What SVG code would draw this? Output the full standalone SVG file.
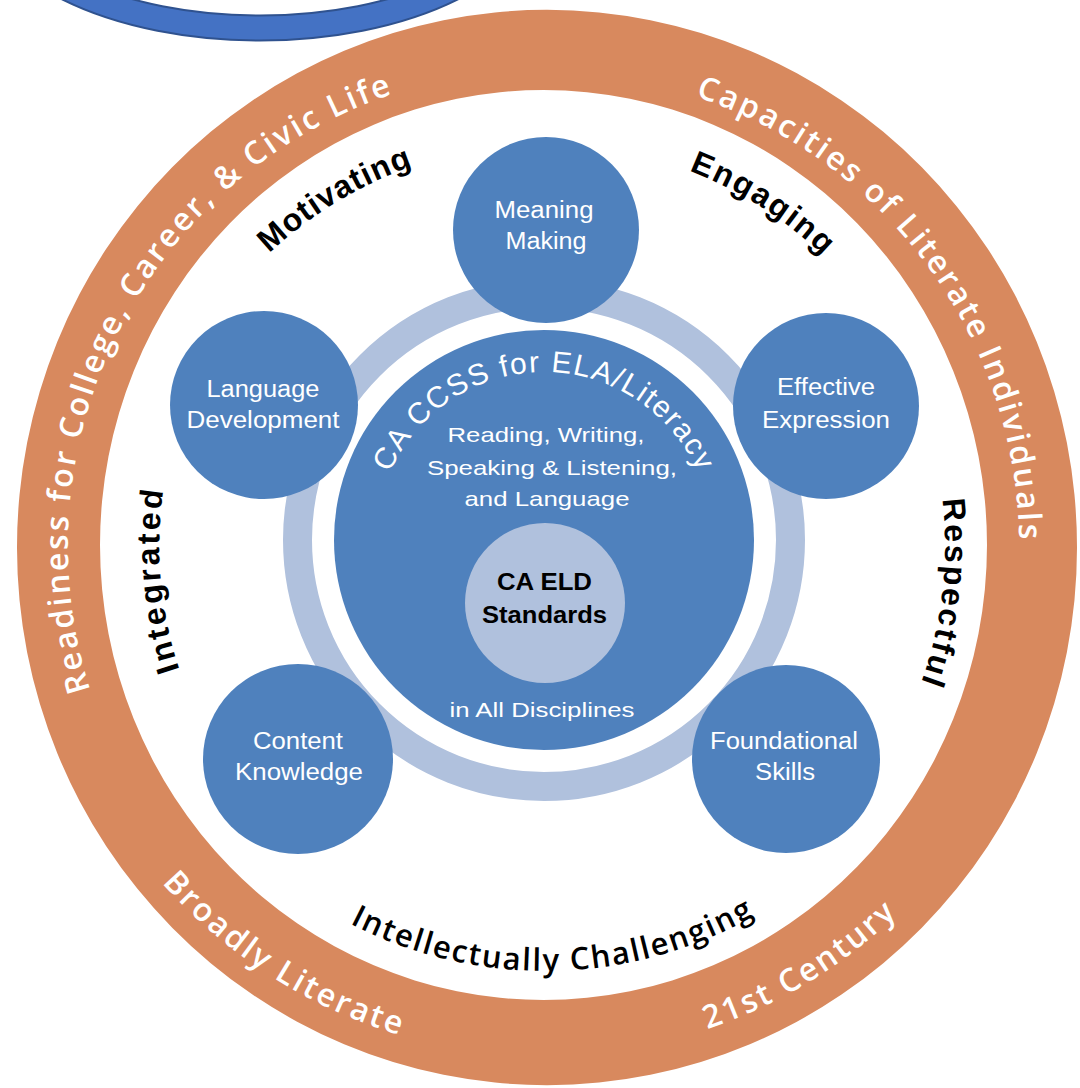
<svg xmlns="http://www.w3.org/2000/svg" width="1080" height="1088" viewBox="0 0 1080 1088">
<style>
.sat{fill:#4F81BD}
.lbl{font-family:"Liberation Sans",Arial,sans-serif;font-size:23px;fill:#fff;text-anchor:middle}
.ctr{font-family:"Liberation Sans",Arial,sans-serif;font-size:21px;fill:#fff;text-anchor:middle}
.eld{font-family:"Liberation Sans",Arial,sans-serif;font-size:23px;font-weight:bold;fill:#000;text-anchor:middle}
.ring{font-family:"Open Sans","Noto Sans",sans-serif;font-size:32px;font-weight:600;fill:#fff;letter-spacing:2.5px;text-anchor:middle}
.blk{font-family:"Liberation Sans",Arial,sans-serif;font-size:32px;font-weight:bold;fill:#000;text-anchor:middle}
.blk2{font-family:"Open Sans","Noto Sans",sans-serif;font-size:31px;font-weight:600;fill:#000;letter-spacing:1.8px;text-anchor:middle}
</style>
<defs>
<path id="pLeft" d="M 257.9 926.9 A 477 477 0 0 1 684.5 89.8"/>
<path id="pRight" d="M 337.2 120.0 A 474 474 0 0 1 886.0 875.3"/>
<path id="pBroad" d="M 73.8 350.8 A 510 510 0 0 0 921.0 890.6"/>
<path id="p21" d="M 161.6 882.2 A 510 510 0 0 0 1020.3 361.2"/>
<path id="pMot" d="M 170.2 691.4 A 402 402 0 0 1 847.5 281.2"/>
<path id="pEng" d="M 248.6 274.4 A 402 402 0 0 1 916.4 699.8"/>
<path id="pInt" d="M 511.4 930.5 A 386 386 0 0 1 445.1 173.2"/>
<path id="pRes" d="M 660.3 163.0 A 400 400 0 0 1 567.7 945.4"/>
<path id="pIC" d="M 128.1 628.5 A 425 425 0 0 0 965.0 611.0"/>
<path id="pCCSS" d="M 376 540 A 168 168 0 0 1 712 540"/>
</defs>

<g id="top-ellipse">
<ellipse cx="260" cy="-108" rx="272" ry="136" fill="#fff" stroke="#2F528F" stroke-width="27"/>
<ellipse cx="260" cy="-108" rx="272" ry="136" fill="none" stroke="#4472C4" stroke-width="23"/>
</g>

<g id="outer-ring">
<path fill="#D8895E" fill-rule="evenodd" d="M 17 547.5 A 530 537.5 0 1 0 1077 547.5 A 530 537.5 0 1 0 17 547.5 Z M 100 545 A 443.5 455 0 1 0 987 545 A 443.5 455 0 1 0 100 545 Z"/>
<text class="ring"><textPath href="#pLeft" startOffset="50%">Readiness for College, Career, &amp; Civic Life</textPath></text>
<text class="ring"><textPath href="#pRight" startOffset="50%">Capacities of Literate Individuals</textPath></text>
<text class="ring"><textPath href="#pBroad" startOffset="50%">Broadly Literate</textPath></text>
<text class="ring"><textPath href="#p21" startOffset="50%">21st Century</textPath></text>
</g>

<g id="qualities">
<text class="blk" letter-spacing="1"><textPath href="#pMot" startOffset="50%">Motivating</textPath></text>
<text class="blk" letter-spacing="2"><textPath href="#pEng" startOffset="50%">Engaging</textPath></text>
<text class="blk" letter-spacing="3"><textPath href="#pInt" startOffset="50%">Integrated</textPath></text>
<text class="blk" letter-spacing="2.5"><textPath href="#pRes" startOffset="50%">Respectful</textPath></text>
<text class="blk2"><textPath href="#pIC" startOffset="50%">Intellectually Challenging</textPath></text>
</g>

<g id="connectors">
<circle cx="544" cy="540" r="246.5" fill="none" stroke="#B0C1DD" stroke-width="29"/>
</g>

<g id="ccss">
<circle cx="544" cy="540" r="210" fill="#4F81BD"/>
<text font-family="Liberation Sans, Arial, sans-serif" font-size="30" fill="#fff" letter-spacing="1.5" text-anchor="middle"><textPath href="#pCCSS" startOffset="50%">CA CCSS for ELA/Literacy</textPath></text>
<text class="ctr" x="546" y="442" textLength="197" lengthAdjust="spacingAndGlyphs">Reading, Writing,</text>
<text class="ctr" x="552" y="475" textLength="250" lengthAdjust="spacingAndGlyphs">Speaking &amp; Listening,</text>
<text class="ctr" x="547" y="506" textLength="165" lengthAdjust="spacingAndGlyphs">and Language</text>
<text class="ctr" x="542" y="717" textLength="185" lengthAdjust="spacingAndGlyphs">in All Disciplines</text>
</g>

<g id="eld">
<circle cx="545" cy="603" r="80" fill="#B0C1DD"/>
<text class="eld" x="544.5" y="590" textLength="95" lengthAdjust="spacingAndGlyphs">CA ELD</text>
<text class="eld" x="544.5" y="623" textLength="125" lengthAdjust="spacingAndGlyphs">Standards</text>
</g>

<g id="meaning-making">
<circle class="sat" cx="546" cy="230" r="93"/>
<text class="lbl" x="544" y="218" textLength="99" lengthAdjust="spacingAndGlyphs">Meaning</text>
<text class="lbl" x="546" y="249" textLength="81" lengthAdjust="spacingAndGlyphs">Making</text>
</g>

<g id="language-development">
<circle class="sat" cx="264" cy="405" r="94"/>
<text class="lbl" x="263" y="397" textLength="113" lengthAdjust="spacingAndGlyphs">Language</text>
<text class="lbl" x="263" y="428" textLength="153" lengthAdjust="spacingAndGlyphs">Development</text>
</g>

<g id="effective-expression">
<circle class="sat" cx="826" cy="406" r="93"/>
<text class="lbl" x="826" y="395" textLength="98" lengthAdjust="spacingAndGlyphs">Effective</text>
<text class="lbl" x="826" y="428" textLength="128" lengthAdjust="spacingAndGlyphs">Expression</text>
</g>

<g id="content-knowledge">
<circle class="sat" cx="298" cy="759" r="95"/>
<text class="lbl" x="298" y="749" textLength="90" lengthAdjust="spacingAndGlyphs">Content</text>
<text class="lbl" x="299" y="780" textLength="128" lengthAdjust="spacingAndGlyphs">Knowledge</text>
</g>

<g id="foundational-skills">
<circle class="sat" cx="786" cy="759" r="94"/>
<text class="lbl" x="784" y="749" textLength="148" lengthAdjust="spacingAndGlyphs">Foundational</text>
<text class="lbl" x="785" y="780" textLength="60" lengthAdjust="spacingAndGlyphs">Skills</text>
</g>
</svg>
